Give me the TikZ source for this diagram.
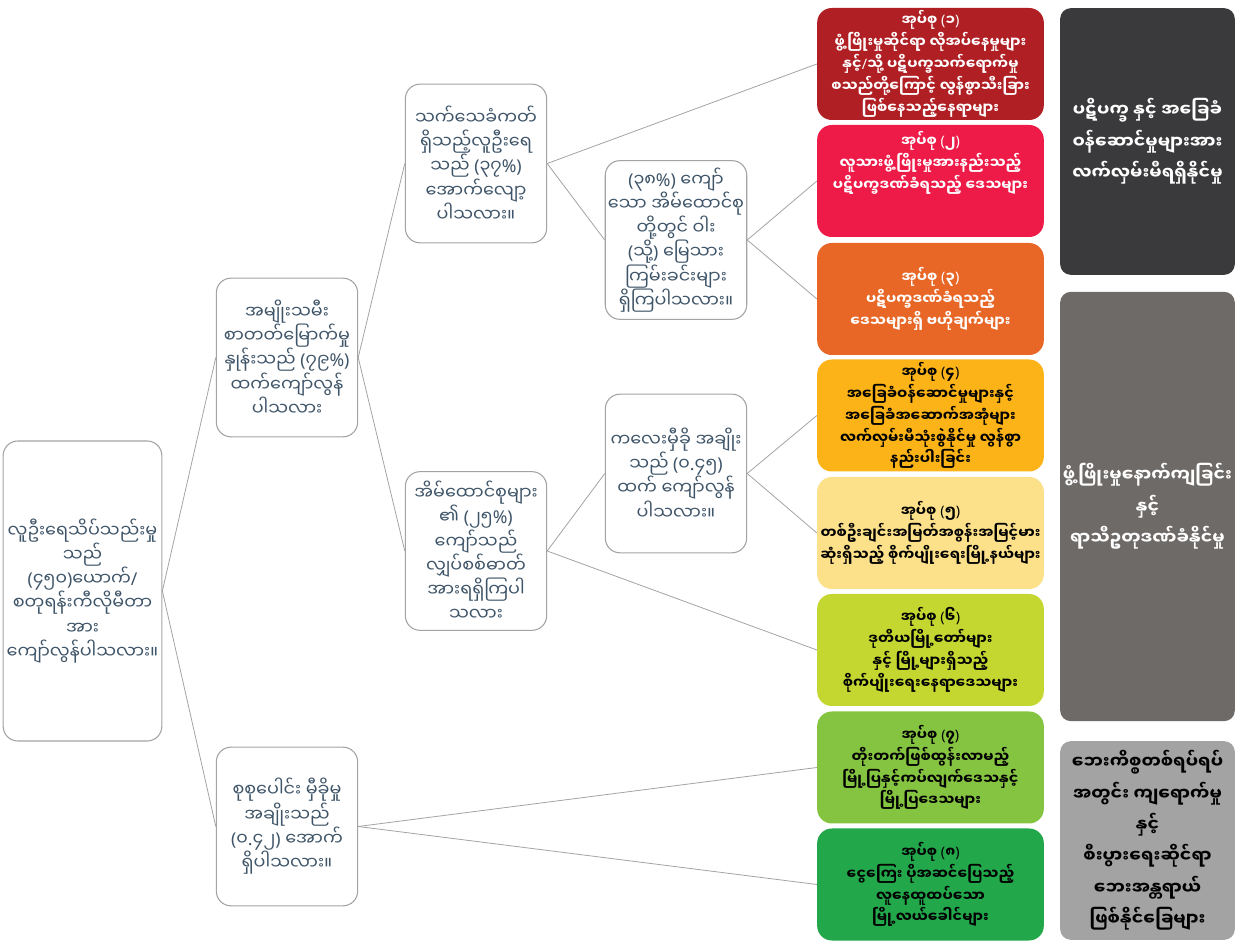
\documentclass[tikz,border=0pt]{standalone}
\usepackage{fontspec}
\newfontfamily\mya[Script=Myanmar]{Noto Sans Myanmar UI}
\newfontfamily\latinfont{Noto Sans}
\usetikzlibrary{positioning}

% punctuation that the Myanmar font does not carry
\newcommand\opar{{\latinfont(}}
\newcommand\cpar{{\latinfont)}}
\newcommand\pcent{{\latinfont\%}}
\newcommand\fslash{{\latinfont/}}
\newcommand\pdot{{\latinfont.}}

\definecolor{qtext}{HTML}{3E5468}
\definecolor{qline}{HTML}{A3A3A3}
\definecolor{grpone}{HTML}{B01F24}
\definecolor{grptwo}{HTML}{EE1B48}
\definecolor{grpthree}{HTML}{E86726}
\definecolor{grpfour}{HTML}{FBB318}
\definecolor{grpfive}{HTML}{FDE18A}
\definecolor{grpsix}{HTML}{C4D731}
\definecolor{grpseven}{HTML}{85C441}
\definecolor{grpeight}{HTML}{23A74B}
\definecolor{themeone}{HTML}{3A393B}
\definecolor{themetwo}{HTML}{6E6A68}
\definecolor{themethree}{HTML}{A3A3A3}

\begin{document}
\begin{tikzpicture}[
    x=0.75pt, y=-0.75pt,
    box/.style={rounded corners=11pt, align=center, inner sep=2pt},
    question/.style={box, draw=qline, fill=white, line width=0.8pt, text=qtext,
        minimum width=106pt, minimum height=119pt, font=\mya\fontsize{13.2}{18.2}\selectfont},
    rootbox/.style={question, minimum width=119pt, minimum height=225pt},
    groupbox/.style={box, draw=none, inner ysep=0pt, minimum width=170pt, minimum height=84pt,
        font=\mya\bfseries\fontsize{10.8}{16.4}\selectfont},
    lightgroup/.style={groupbox, text=black},
    darkgroup/.style={groupbox, text=white},
    themebox/.style={box, rounded corners=8pt, draw=none, minimum width=131pt,
        font=\mya\bfseries\fontsize{13}{23.5}\selectfont},
    link/.style={draw=qline, line width=0.6pt}
]
    \useasboundingbox (0,0) rectangle (1240,944);

    % Question tree.
    \node[rootbox] (density) at (82.5, 591) {လူဦးရေသိပ်သည်းမှု\\သည်\\\opar{}၄၅၀\cpar{}ယောက်\fslash{}\\စတုရန်းကီလိုမီတာ\\အား\\ကျော်လွန်ပါသလား။};
    \node[question] (literacy) at (287, 357.5) {အမျိုးသမီး\\စာတတ်မြောက်မှု\\နှုန်းသည် \opar{}၇၉\pcent{}\cpar{}\\ထက်ကျော်လွန်\\ပါသလား};
    \node[question] (dependency) at (287, 826.5) {စုစုပေါင်း မှီခိုမှု\\အချိုးသည်\\\opar{}၀\pdot{}၄၂\cpar{} အောက်\\ရှိပါသလား။};
    \node[question] (idcard) at (476, 163.5) {သက်သေခံကတ်\\ရှိသည့်လူဦးရေ\\သည် \opar{}၃၇\pcent{}\cpar{}\\အောက်လျော့\\ပါသလား။};
    \node[question] (electric) at (476, 551) {အိမ်ထောင်စုများ\\၏ \opar{}၂၅\pcent{}\cpar{}\\ကျော်သည်\\လျှပ်စစ်ဓာတ်\\အားရရှိကြပါ\\သလား};
    \node[question] (floor) at (676, 240) {\opar{}၃၈\pcent{}\cpar{} ကျော်\\သော အိမ်ထောင်စု\\တို့တွင် ဝါး\\\opar{}သို့\cpar{} မြေသား\\ကြမ်းခင်းများ\\ရှိကြပါသလား။};
    \node[question] (child) at (676, 473.5) {ကလေးမှီခို အချိုး\\သည် \opar{}၀\pdot{}၄၅\cpar{}\\ထက် ကျော်လွန်\\ပါသလား။};

    % Eight typology groups.
    \node[darkgroup, fill=grpone] (g1) at (930.5, 64) {အုပ်စု \opar{}၁\cpar{}\\ဖွံ့ဖြိုးမှုဆိုင်ရာ လိုအပ်နေမှုများ\\နှင့်\fslash{}သို့ ပဋိပက္ခသက်ရောက်မှု\\စသည်တို့ကြောင့် လွန်စွာသီးခြား\\ဖြစ်နေသည့်နေရာများ};
    \node[darkgroup, fill=grptwo] (g2) at (930.5, 181) {အုပ်စု \opar{}၂\cpar{}\\လူသားဖွံ့ဖြိုးမှုအားနည်းသည့်\\ပဋိပက္ခဒဏ်ခံရသည့် ဒေသများ\\[14pt]};
    \node[darkgroup, fill=grpthree] (g3) at (930.5, 299) {အုပ်စု \opar{}၃\cpar{}\\ပဋိပက္ခဒဏ်ခံရသည့်\\ဒေသများရှိ ဗဟိုချက်များ};
    \node[lightgroup, fill=grpfour] (g4) at (930.5, 415.5) {အုပ်စု \opar{}၄\cpar{}\\အခြေခံဝန်ဆောင်မှုများနှင့်\\အခြေခံအဆောက်အအုံများ\\လက်လှမ်းမီသုံးစွဲနိုင်မှု လွန်စွာ\\နည်းပါးခြင်း};
    \node[lightgroup, fill=grpfive] (g5) at (930.5, 533) {အုပ်စု \opar{}၅\cpar{}\\တစ်ဦးချင်းအမြတ်အစွန်းအမြင့်မား\\ဆုံးရှိသည့် စိုက်ပျိုးရေးမြို့နယ်များ};
    \node[lightgroup, fill=grpsix] (g6) at (930.5, 650) {အုပ်စု \opar{}၆\cpar{}\\ဒုတိယမြို့တော်များ\\နှင့် မြို့များရှိသည့်\\စိုက်ပျိုးရေးနေရာဒေသများ};
    \node[lightgroup, fill=grpseven] (g7) at (930.5, 767.5) {အုပ်စု \opar{}၇\cpar{}\\တိုးတက်ဖြစ်ထွန်းလာမည့်\\မြို့ပြနှင့်ကပ်လျက်ဒေသနှင့်\\မြို့ပြဒေသများ};
    \node[lightgroup, fill=grpeight] (g8) at (930.5, 884.5) {အုပ်စု \opar{}၈\cpar{}\\ငွေကြေး ပိုအဆင်ပြေသည့်\\လူနေထူထပ်သော\\မြို့လယ်ခေါင်များ};

    % Three themes on the right.
    \node[themebox, fill=themeone, text=white, minimum height=200pt] (conflict) at (1147.5, 141.5) {ပဋိပက္ခ နှင့် အခြေခံ\\ဝန်ဆောင်မှုများအား\\လက်လှမ်းမီရရှိနိုင်မှု};
    \node[themebox, fill=themetwo, text=white, minimum height=322pt] (climate) at (1147.5, 506.5) {ဖွံ့ဖြိုးမှုနောက်ကျခြင်း\\နှင့်\\ရာသီဥတုဒဏ်ခံနိုင်မှု};
    \node[themebox, fill=themethree, text=black, minimum height=149pt] (hazard) at (1147.5, 840.5) {ဘေးကိစ္စတစ်ရပ်ရပ်\\အတွင်း ကျရောက်မှု\\နှင့်\\စီးပွားရေးဆိုင်ရာ\\ဘေးအန္တရာယ်\\ဖြစ်နိုင်ခြေများ};

    % Branches.
    \draw[link] (density.east) -- (literacy.west);
    \draw[link] (density.east) -- (dependency.west);
    \draw[link] (literacy.east) -- (idcard.west);
    \draw[link] (literacy.east) -- (electric.west);
    \draw[link] (idcard.east) -- (g1.west);
    \draw[link] (idcard.east) -- (floor.west);
    \draw[link] (floor.east) -- (g2.west);
    \draw[link] (floor.east) -- (g3.west);
    \draw[link] (electric.east) -- (child.west);
    \draw[link] (electric.east) -- (g6.west);
    \draw[link] (child.east) -- (g4.west);
    \draw[link] (child.east) -- (g5.west);
    \draw[link] (dependency.east) -- (g7.west);
    \draw[link] (dependency.east) -- (g8.west);

\end{tikzpicture}
\end{document}
